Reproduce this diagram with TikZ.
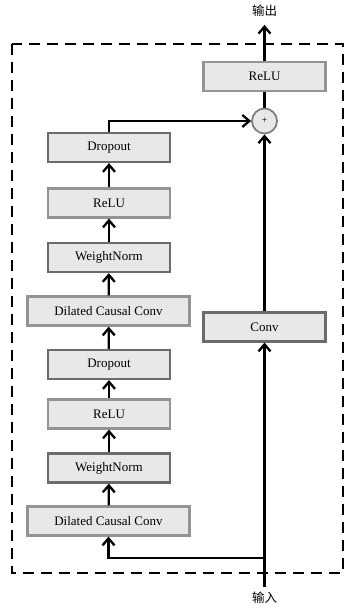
\documentclass[tikz,border=0pt]{standalone}
\usepackage{fontspec}
\setmainfont{Liberation Serif}
\newfontfamily\cjk{Noto Sans CJK SC}
\usetikzlibrary{arrows.meta}
\tikzset{
  blk/.style={draw=black!42, line width=2.2pt, fill=black!9, minimum height=29pt,
    minimum width=122pt, inner sep=0pt, font=\fontsize{13}{15}\selectfont},
  blkdark/.style={blk, draw=black!58},
  wide/.style={minimum width=162pt},
  link/.style={line width=2.3pt, -{Straight Barb[length=7pt,width=12pt]}},
  plain/.style={line width=2.3pt},
  frame/.style={line width=2.6pt, dash pattern=on 11pt off 7pt},
  sumnode/.style={circle, draw=black!50, line width=1.8pt, fill=black!9,
    minimum size=25pt, inner sep=0pt, font=\fontsize{10}{11}\selectfont},
  lbl/.style={font=\cjk\fontsize{12.5}{14}\selectfont, inner sep=0pt}
}
\begin{document}
\begin{tikzpicture}[x=1pt, y=-1pt]
  \useasboundingbox (0,0) rectangle (345,611);
  % dashed block boundary
  \draw[frame] (12,44) rectangle (343,573);

  % residual branch (left column, bottom to top)
  \node[blk, wide]     (dcc1)  at (108.5,521) {Dilated Causal Conv};
  \node[blkdark]       (wn1)   at (109,468)   {WeightNorm};
  \node[blk]           (relu1) at (109,414)   {ReLU};
  \node[blkdark]       (drop1) at (109,364.5) {Dropout};
  \node[blk, wide]     (dcc2)  at (108.5,311) {Dilated Causal Conv};
  \node[blkdark]       (wn2)   at (109,257.5) {WeightNorm};
  \node[blk]           (relu2) at (109,203)   {ReLU};
  \node[blkdark]       (drop2) at (109,147.5) {Dropout};

  % skip branch and output (right column)
  \node[blkdark]       (conv)  at (264.5,327)  {Conv};
  \node[sumnode]       (sum)   at (264.5,121)  {+};
  \node[blk]           (relu3) at (264.5,76.5) {ReLU};

  \node[lbl] (out) at (264.5,11) {输出};
  \node[lbl] (in)  at (264.5,598) {输入};
  \coordinate (split) at (264.5,558);
  \coordinate (inTop) at (264.5,587);

  % connectors
  \draw[plain] (inTop) -- (split);
  \draw[link] (split) -- (conv.south);
  \draw[link] (split) -| (dcc1.south);
  \draw[link] (dcc1) -- (wn1);
  \draw[link] (wn1) -- (relu1);
  \draw[link] (relu1) -- (drop1);
  \draw[link] (drop1) -- (dcc2);
  \draw[link] (dcc2) -- (wn2);
  \draw[link] (wn2) -- (relu2);
  \draw[link] (relu2) -- (drop2);
  \draw[link] (drop2.north) |- (sum.west);
  \draw[link] (conv.north) -- (sum.south);
  \draw[plain] (sum.north) -- (relu3.south);
  \draw[link] (relu3.north) -- ++(0,-36);
\end{tikzpicture}
\end{document}
